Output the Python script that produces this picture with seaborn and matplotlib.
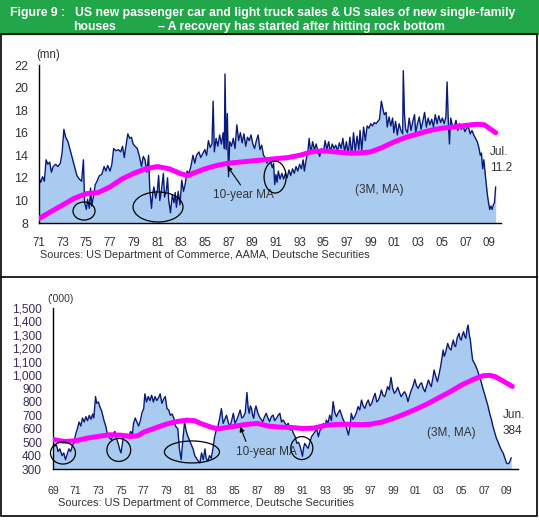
#!/usr/bin/env python3
# US car/light truck sales and new single-family home sales, two panels

import pandas as pd
import matplotlib.pyplot as plt
import seaborn as sns
from matplotlib.patches import Ellipse, Rectangle
from matplotlib.ticker import FuncFormatter

sns.set_style('white')
plt.rcParams['font.family'] = ['Liberation Sans', 'DejaVu Sans']

# ---- top panel: car + light truck sales (mn, 3M MA) ----
car_years = [
    1971.0, 1971.15, 1971.3, 1971.45, 1971.6, 1971.75, 1971.9, 1972.05, 1972.2, 1972.4,
    1972.6, 1972.8, 1972.95, 1973.1, 1973.25, 1973.45, 1973.65, 1973.85, 1974.0, 1974.2,
    1974.4, 1974.6, 1974.75, 1974.85, 1975.0, 1975.1, 1975.25, 1975.35, 1975.45, 1975.6,
    1975.75, 1975.9, 1976.1, 1976.3, 1976.5, 1976.65, 1976.8, 1977.0, 1977.15, 1977.3,
    1977.5, 1977.7, 1977.9, 1978.05, 1978.2, 1978.35, 1978.5, 1978.65, 1978.8, 1978.95,
    1979.1, 1979.3, 1979.5, 1979.65, 1979.8, 1979.95, 1980.1, 1980.25, 1980.35, 1980.5,
    1980.6, 1980.7, 1980.85, 1981.0, 1981.1, 1981.2, 1981.35, 1981.5, 1981.6, 1981.75,
    1981.85, 1981.95, 1982.1, 1982.25, 1982.4, 1982.5, 1982.6, 1982.75, 1982.9, 1983.05,
    1983.2, 1983.35, 1983.5, 1983.65, 1983.8, 1984.0, 1984.15, 1984.3, 1984.5, 1984.65,
    1984.8, 1985.0, 1985.15, 1985.3, 1985.45, 1985.6, 1985.7, 1985.8, 1985.95, 1986.1,
    1986.25, 1986.4, 1986.55, 1986.65, 1986.7, 1986.8, 1986.9, 1987.0, 1987.1, 1987.25,
    1987.4, 1987.55, 1987.7, 1987.85, 1988.0, 1988.15, 1988.3, 1988.45, 1988.6, 1988.75,
    1988.9, 1989.05, 1989.2, 1989.35, 1989.5, 1989.65, 1989.8, 1989.95, 1990.1, 1990.25,
    1990.4, 1990.55, 1990.7, 1990.8, 1990.9, 1991.0, 1991.1, 1991.2, 1991.35, 1991.5,
    1991.65, 1991.8, 1991.95, 1992.1, 1992.25, 1992.4, 1992.55, 1992.7, 1992.85, 1993.0,
    1993.15, 1993.3, 1993.4, 1993.55, 1993.7, 1993.8, 1993.95, 1994.1, 1994.25, 1994.4,
    1994.55, 1994.7, 1994.85, 1995.0, 1995.15, 1995.3, 1995.45, 1995.6, 1995.75, 1995.9,
    1996.05, 1996.2, 1996.35, 1996.5, 1996.65, 1996.8, 1996.95, 1997.1, 1997.25, 1997.4,
    1997.55, 1997.7, 1997.85, 1998.0, 1998.1, 1998.25, 1998.4, 1998.55, 1998.7, 1998.85,
    1999.0, 1999.15, 1999.3, 1999.45, 1999.6, 1999.75, 1999.9, 2000.05, 2000.15, 2000.3,
    2000.4, 2000.55, 2000.7, 2000.85, 2000.95, 2001.1, 2001.25, 2001.4, 2001.55, 2001.7,
    2001.75, 2001.85, 2001.95, 2002.1, 2002.25, 2002.4, 2002.55, 2002.7, 2002.8, 2002.95,
    2003.1, 2003.25, 2003.4, 2003.55, 2003.7, 2003.85, 2004.0, 2004.15, 2004.3, 2004.45,
    2004.6, 2004.75, 2004.9, 2005.05, 2005.2, 2005.35, 2005.45, 2005.55, 2005.65, 2005.75,
    2005.9, 2006.05, 2006.2, 2006.35, 2006.5, 2006.65, 2006.8, 2006.95, 2007.1, 2007.25,
    2007.4, 2007.55, 2007.7, 2007.85, 2008.0, 2008.15, 2008.25, 2008.35, 2008.45, 2008.55,
    2008.65, 2008.75, 2008.85, 2008.95, 2009.05, 2009.15, 2009.25, 2009.35, 2009.45, 2009.55,
]
car_sales = [
    12.0, 11.6, 12.1, 11.7, 13.6, 13.2, 13.4, 12.5, 13.0, 13.2,
    13.0, 13.3, 14.2, 16.3, 15.6, 15.2, 14.4, 13.6, 13.0, 12.2,
    11.9, 11.7, 13.6, 9.8, 9.2, 10.1, 9.3, 11.1, 9.5, 10.4,
    11.4, 11.7, 12.2, 12.3, 13.0, 12.6, 13.1, 12.6, 13.2, 14.6,
    14.4, 14.5, 14.3, 14.8, 13.8, 14.9, 15.9, 15.5, 15.6, 15.0,
    14.8, 14.6, 13.8, 13.0, 13.9, 13.6, 12.5, 14.0, 11.0, 9.3,
    10.6, 11.2, 10.2, 11.0, 12.2, 10.0, 11.0, 12.4, 10.3, 10.9,
    12.0, 10.0, 8.9, 10.5, 9.8, 10.7, 9.4, 10.8, 9.6, 11.8,
    10.8, 11.5, 12.6, 12.4, 12.9, 14.0, 13.3, 14.0, 14.3, 13.8,
    14.1, 14.5, 14.0, 15.3, 14.7, 15.0, 18.8, 14.3, 15.5, 14.8,
    15.8, 15.0, 16.0, 14.6, 21.2, 14.5, 17.7, 12.1, 15.2, 14.8,
    15.5, 14.6, 16.7, 15.3, 16.0, 15.1, 15.9, 14.8, 15.6, 15.3,
    15.8, 15.0, 14.6, 15.3, 15.8, 14.5, 14.9, 14.0, 13.8, 13.3,
    13.7, 13.4, 12.9, 13.3, 11.4, 12.3, 11.6, 12.6, 11.9, 12.4,
    11.9, 12.4, 12.0, 12.7, 12.2, 12.8, 12.4, 13.0, 12.6, 13.2,
    12.8, 13.6, 12.6, 13.6, 14.3, 15.5, 14.2, 15.2, 14.5, 15.0,
    14.3, 13.9, 14.6, 14.2, 15.3, 14.5, 15.2, 14.3, 15.0, 14.6,
    14.9, 14.4, 15.1, 14.6, 15.5, 14.3, 15.2, 14.1, 15.6, 14.0,
    16.0, 14.3, 15.7, 14.5, 16.2, 14.4, 16.5, 15.3, 16.6, 16.4,
    16.8, 16.6, 16.9, 16.8, 17.0, 17.2, 18.8, 18.0, 17.6, 17.8,
    16.5, 17.4, 16.6, 17.3, 16.0, 17.0, 15.8, 16.8, 16.2, 15.9,
    21.5, 17.6, 16.3, 16.0, 17.3, 16.2, 17.0, 17.6, 16.0, 16.8,
    17.4, 16.3, 17.0, 17.8, 16.5, 17.3, 16.7, 17.2, 16.5, 17.6,
    16.8, 17.5, 16.9, 17.3, 16.8, 17.4, 20.5, 17.0, 15.0, 17.3,
    16.6, 16.5, 17.1, 16.2, 16.8, 16.3, 16.6, 16.1, 16.4, 16.5,
    15.9, 16.2, 15.8, 15.5, 15.2, 14.6, 14.0, 14.2, 12.8, 13.6,
    12.5, 11.5, 10.5, 9.8, 9.2, 9.5, 9.2, 9.6, 9.8, 11.2,
]
car_ma_years = [
    1971, 1972, 1973, 1974, 1975, 1976, 1977, 1978, 1979, 1980, 1981, 1982, 1983, 1983.6,
    1984, 1985, 1986, 1987, 1988, 1989, 1990, 1991, 1992, 1993, 1994, 1995, 1996, 1997,
    1998, 1999, 2000, 2001, 2002, 2003, 2004, 2005, 2006, 2007, 2008, 2008.6, 2009.0, 2009.55,
]
car_ma = [
    8.4, 9.0, 9.6, 10.2, 10.6, 10.7, 11.2, 11.9, 12.4, 12.8, 13.0, 12.8, 12.35, 12.2,
    12.4, 12.8, 13.1, 13.3, 13.4, 13.5, 13.6, 13.7, 13.8, 14.0, 14.3, 14.4, 14.3, 14.2,
    14.2, 14.3, 14.7, 15.2, 15.6, 15.9, 16.2, 16.4, 16.5, 16.65, 16.75, 16.7, 16.4, 16.0,
]

# ---- bottom panel: new single-family home sales ('000, 3M MA) ----
home_years = [
    1969.0, 1969.15, 1969.3, 1969.45, 1969.6, 1969.8, 1969.95, 1970.1, 1970.25, 1970.4,
    1970.55, 1970.7, 1970.85, 1971.0, 1971.15, 1971.3, 1971.45, 1971.6, 1971.75, 1971.9,
    1972.05, 1972.2, 1972.35, 1972.5, 1972.6, 1972.75, 1972.85, 1973.0, 1973.15, 1973.3,
    1973.5, 1973.65, 1973.8, 1974.0, 1974.15, 1974.3, 1974.45, 1974.6, 1974.75, 1974.9,
    1975.0, 1975.1, 1975.25, 1975.4, 1975.55, 1975.7, 1975.85, 1976.0, 1976.1, 1976.25,
    1976.4, 1976.55, 1976.7, 1976.85, 1977.0, 1977.1, 1977.25, 1977.4, 1977.55, 1977.7,
    1977.85, 1978.0, 1978.15, 1978.3, 1978.45, 1978.6, 1978.75, 1978.9, 1979.05, 1979.2,
    1979.35, 1979.5, 1979.65, 1979.8, 1980.0, 1980.15, 1980.3, 1980.4, 1980.5, 1980.6,
    1980.75, 1980.9, 1981.05, 1981.2, 1981.35, 1981.5, 1981.65, 1981.8, 1981.95, 1982.1,
    1982.25, 1982.4, 1982.5, 1982.65, 1982.8, 1982.95, 1983.1, 1983.25, 1983.4, 1983.55,
    1983.7, 1983.85, 1984.0, 1984.15, 1984.3, 1984.45, 1984.6, 1984.75, 1984.9, 1985.05,
    1985.2, 1985.35, 1985.5, 1985.65, 1985.8, 1985.95, 1986.1, 1986.2, 1986.3, 1986.4,
    1986.5, 1986.6, 1986.7, 1986.8, 1986.9, 1987.05, 1987.2, 1987.35, 1987.5, 1987.65,
    1987.8, 1987.95, 1988.1, 1988.25, 1988.4, 1988.55, 1988.7, 1988.85, 1989.0, 1989.15,
    1989.3, 1989.45, 1989.6, 1989.75, 1989.9, 1990.05, 1990.2, 1990.35, 1990.5, 1990.65,
    1990.8, 1990.9, 1991.0, 1991.1, 1991.2, 1991.35, 1991.5, 1991.65, 1991.8, 1991.95,
    1992.1, 1992.25, 1992.4, 1992.55, 1992.7, 1992.85, 1993.0, 1993.1, 1993.25, 1993.4,
    1993.55, 1993.7, 1993.85, 1994.0, 1994.15, 1994.3, 1994.45, 1994.6, 1994.75, 1994.9,
    1995.05, 1995.2, 1995.3, 1995.45, 1995.6, 1995.75, 1995.9, 1996.05, 1996.2, 1996.35,
    1996.5, 1996.65, 1996.8, 1996.95, 1997.1, 1997.25, 1997.4, 1997.55, 1997.7, 1997.85,
    1997.95, 1998.1, 1998.25, 1998.4, 1998.5, 1998.65, 1998.8, 1998.95, 1999.1, 1999.25,
    1999.4, 1999.55, 1999.7, 1999.85, 2000.0, 2000.15, 2000.3, 2000.45, 2000.6, 2000.75,
    2000.9, 2001.05, 2001.2, 2001.35, 2001.5, 2001.65, 2001.8, 2001.95, 2002.1, 2002.25,
    2002.35, 2002.5, 2002.6, 2002.75, 2002.9, 2003.05, 2003.2, 2003.3, 2003.4, 2003.5,
    2003.6, 2003.7, 2003.8, 2003.95, 2004.1, 2004.2, 2004.3, 2004.4, 2004.5, 2004.65,
    2004.8, 2004.9, 2005.0, 2005.1, 2005.2, 2005.3, 2005.4, 2005.5, 2005.6, 2005.7,
    2005.8, 2005.9, 2006.0, 2006.15, 2006.3, 2006.45, 2006.6, 2006.75, 2006.9, 2007.05,
    2007.2, 2007.35, 2007.5, 2007.65, 2007.8, 2007.95, 2008.1, 2008.25, 2008.4, 2008.55,
    2008.7, 2008.85, 2009.0, 2009.1, 2009.2, 2009.3, 2009.4,
]
home_sales = [
    500, 470, 480, 430, 450, 400, 420, 370, 410, 450,
    430, 470, 500, 560, 600, 650, 620, 680, 650, 690,
    660, 700, 670, 710, 680, 840, 790, 800, 760, 730,
    660, 620, 560, 530, 520, 560, 580, 530, 490, 440,
    420, 480, 560, 540, 560, 550, 580, 560, 640, 680,
    650, 620, 660, 720, 750, 860, 800, 840, 810, 850,
    800, 840, 810, 830, 860, 790, 820, 840, 750, 740,
    700, 710, 680, 620, 600, 450, 370, 470, 560, 650,
    580, 540, 510, 480, 450, 400, 380, 360, 345, 420,
    370, 450, 380, 360, 400, 380, 450, 540, 590, 620,
    680, 750, 640, 670, 700, 650, 615, 660, 715, 640,
    665, 700, 740, 680, 690, 720, 870, 760, 715, 770,
    752, 700, 678, 740, 770, 720, 690, 670, 653, 690,
    715, 680, 653, 690, 702, 660, 678, 700, 715, 650,
    665, 640, 628, 640, 590, 600, 566, 540, 491, 500,
    466, 430, 395, 460, 491, 470, 454, 500, 541, 560,
    578, 600, 541, 590, 603, 640, 620, 665, 640, 702,
    660, 802, 720, 690, 720, 740, 700, 665, 640, 600,
    553, 620, 715, 670, 690, 720, 765, 740, 814, 770,
    752, 790, 814, 770, 789, 830, 864, 800, 814, 850,
    889, 850, 839, 880, 914, 890, 983, 900, 864, 880,
    909, 870, 839, 860, 876, 850, 802, 850, 889, 920,
    968, 920, 901, 930, 943, 900, 876, 920, 963, 930,
    914, 980, 1038, 990, 951, 1010, 1075, 1130, 1187, 1140,
    1162, 1200, 1236, 1200, 1187, 1230, 1261, 1220, 1212, 1280,
    1311, 1270, 1261, 1300, 1323, 1290, 1274, 1340, 1373, 1300,
    1261, 1180, 1112, 1090, 1063, 1030, 988, 950, 901, 860,
    814, 770, 715, 670, 615, 570, 528, 500, 466, 440,
    417, 380, 342, 340, 342, 360, 384,
]
home_ma_years = [
    1969, 1970, 1971, 1972, 1973, 1974, 1975, 1975.8, 1976.5, 1977, 1978, 1979, 1980,
    1980.8, 1981.5, 1982, 1983, 1983.5, 1984, 1985, 1986, 1987, 1988, 1989, 1990, 1991,
    1992, 1993, 1994, 1995, 1996, 1997, 1998, 1999, 2000, 2001, 2002, 2003, 2004, 2005,
    2006, 2006.9, 2007.5, 2008, 2008.7, 2009.5,
]
home_ma = [
    520, 505, 510, 530, 543, 555, 552, 542, 548, 575, 605, 635, 655,
    664, 660, 640, 610, 600, 605, 618, 632, 640, 620, 612, 610, 602,
    605, 625, 632, 634, 630, 634, 650, 677, 710, 745, 785, 830, 875, 925,
    965, 995, 998, 988, 955, 915,
]

FILL = '#A9CBF0'
NAVY = '#0A1A7A'
MAGENTA = '#FF00FF'
GREEN = '#22A64A'
TXT = '#333333'

W, H = 539, 520
fig = plt.figure(figsize=(W / 100, H / 100), dpi=100)
fig.patch.set_facecolor('white')


def fx(px):
    return px / W


def fy(py):
    return 1 - py / H


# title bar and frames
fig.patches.append(Rectangle((0, fy(34)), 1, 34 / H, transform=fig.transFigure,
                             color=GREEN, zorder=0))
fig.patches.append(Rectangle((fx(1), fy(516)), fx(536), (516 - 34) / H, transform=fig.transFigure,
                             fill=False, ec='black', lw=1.2, zorder=1))
fig.add_artist(plt.Line2D([fx(1), fx(537)], [fy(277), fy(277)], color='black', lw=1.2))

tkw = dict(color='white', fontsize=8.8, fontweight='bold', va='center', ha='left')
fig.text(fx(10), fy(13), 'Figure 9 :', **tkw)
fig.text(fx(75), fy(13), 'US new passenger car and light truck sales & US sales of new single-family', **tkw)
fig.text(fx(73), fy(27), 'houses', **tkw)
fig.text(fx(158), fy(27), '\u2013 A recovery has started after hitting rock bottom', **tkw)


def draw_panel(ax, years, values, ma_years, ma_values, ybase):
    ax.fill_between(years, values, ybase, color=FILL, lw=0, zorder=1)
    sns.lineplot(x=years, y=values, ax=ax, color=NAVY, lw=1.0, zorder=2)
    sns.lineplot(x=ma_years, y=ma_values, ax=ax, color=MAGENTA, lw=3.6, zorder=3)
    for s in ['top', 'right']:
        ax.spines[s].set_visible(False)
    for s in ['left', 'bottom']:
        ax.spines[s].set_color('black')
        ax.spines[s].set_linewidth(1.0)
    ax.set_xlabel('')
    ax.set_ylabel('')
    ax.set_facecolor('none')


def ellipse(ax, x, y, w, h):
    ax.add_patch(Ellipse((x, y), w, h, fill=False, ec='black', lw=0.9, zorder=4, clip_on=False))


arrow_kw = dict(arrowstyle='-|>', color='black', lw=0.8, mutation_scale=7,
                shrinkA=1, shrinkB=0)

# ---- top panel ----
ax1 = fig.add_axes([fx(39), fy(223), fx(501 - 39), (223 - 65) / H])
draw_panel(ax1, car_years, car_sales, car_ma_years, car_ma, 8)
ax1.set_xlim(1971, 2010)
ax1.set_ylim(8, 22)
ax1.set_yticks(range(8, 23, 2))
ax1.set_xticks(range(1971, 2010, 2))
ax1.set_xticklabels([f'{y % 100:02d}' for y in range(1971, 2010, 2)])
ax1.tick_params(axis='x', direction='out', length=3, pad=7, labelsize=8.3, colors=TXT)
ax1.tick_params(axis='y', direction='out', length=3, pad=5, labelsize=9, colors=TXT)
ax1.tick_params(axis='both', color='black')

ellipse(ax1, 1974.8, 9.06, 1.86, 1.6)
ellipse(ax1, 1981.05, 9.42, 4.22, 2.66)
ellipse(ax1, 1990.93, 12.07, 1.86, 2.83)
ax1.annotate('10-year MA', xy=(1986.9, 13.05), xytext=(1985.7, 10.45),
             fontsize=8.5, color=TXT, ha='left', va='center',
             arrowprops=dict(relpos=(0.5, 1.0), **arrow_kw))
ax1.text(1999.7, 10.9, '(3M, MA)', fontsize=8.5, color=TXT, ha='center', va='center')
ax1.text(2009.1, 13.6, 'Jul.\n11.2', fontsize=8.5, color=TXT, ha='left', va='center',
         linespacing=1.5, clip_on=False)

fig.text(fx(40), fy(255), 'Sources: US Department of Commerce, AAMA, Deutsche Securities',
         fontsize=7.8, color=TXT, ha='left', va='center')
fig.text(fx(36), fy(55), '(mn)', fontsize=8.3, color=TXT, ha='left', va='center')

# ---- bottom panel ----
ax2 = fig.add_axes([fx(53), fy(469), fx(518 - 53), (469 - 308) / H])
draw_panel(ax2, home_years, home_sales, home_ma_years, home_ma, 300)
ax2.set_xlim(1969, 2010)
ax2.set_ylim(300, 1500)
ax2.set_yticks(range(300, 1501, 100))
ax2.yaxis.set_major_formatter(FuncFormatter(lambda v, p: f'{int(v):,}'))
ax2.set_xticks(range(1969, 2010, 2))
ax2.set_xticklabels([f'{y % 100:02d}' for y in range(1969, 2010, 2)])
ax2.tick_params(axis='x', direction='out', length=3, pad=9, labelsize=7.6, colors=TXT)
ax2.tick_params(axis='y', direction='out', length=3, pad=5, labelsize=8.6, colors='#3D2A5C')
ax2.tick_params(axis='both', color='black')

ellipse(ax2, 1969.88, 419, 2.2, 164)
ellipse(ax2, 1974.8, 442, 2.1, 171)
ellipse(ax2, 1981.25, 427, 4.85, 164)
ellipse(ax2, 1990.94, 456, 1.94, 171)
ax2.annotate('10-year MA', xy=(1985.5, 615), xytext=(1985.1, 427),
             fontsize=8.5, color=TXT, ha='left', va='center',
             arrowprops=dict(relpos=(0.2, 1.0), **arrow_kw))
ax2.text(2004.15, 568, '(3M, MA)', fontsize=8.5, color=TXT, ha='center', va='center')
ax2.text(2008.65, 643, 'Jun.\n384', fontsize=8.5, color=TXT, ha='left', va='center',
         linespacing=1.5, clip_on=False)

fig.text(fx(58), fy(503), 'Sources: US Department of Commerce, Deutsche Securities',
         fontsize=7.9, color=TXT, ha='left', va='center')
fig.text(fx(47), fy(299), "('000)", fontsize=7.5, color=TXT, ha='left', va='center')

plt.savefig('out.png', dpi=100)
